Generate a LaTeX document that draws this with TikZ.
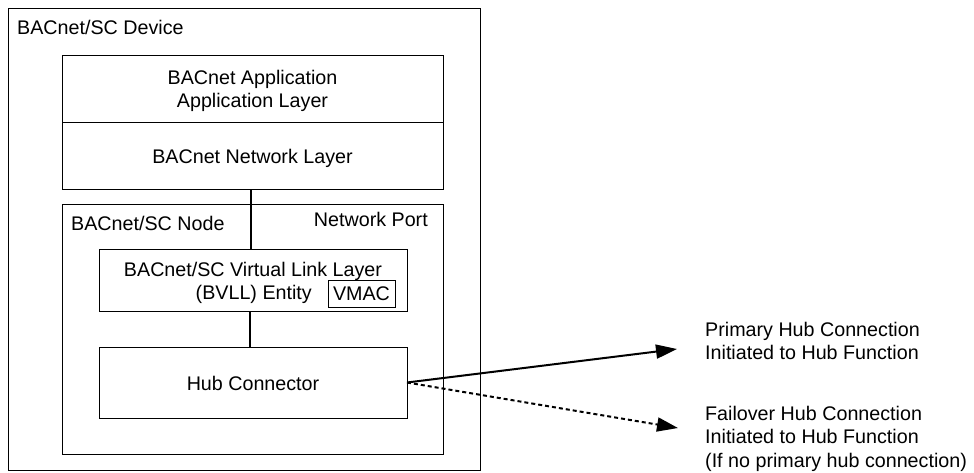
\documentclass[tikz,border=0pt]{standalone}
\usepackage{fontspec}
\setmainfont{Liberation Sans}
\usetikzlibrary{arrows.meta}
\tikzset{
  box/.style={draw, line width=1pt, inner sep=0pt, outer sep=0pt, anchor=north west},
  lbl/.style={inner sep=0pt, font=\fontsize{19.7}{23.5}\selectfont},
  link/.style={line width=2pt},
  conn/.style={line width=2pt, -{Triangle[length=21pt,width=14pt]}},
  dconn/.style={conn, dash pattern=on 4pt off 3pt}
}
\begin{document}
\begin{tikzpicture}[x=1pt,y=-1pt]
\useasboundingbox (0,0) rectangle (974,472);
% boxes
\node[box, minimum width=472pt, minimum height=462pt] (dev) at (8,8) {};
\node[box, minimum width=381pt, minimum height=67pt] (app) at (62,55) {};
\node[box, minimum width=381pt, minimum height=67pt] (net) at (62,122) {};
\node[box, minimum width=381pt, minimum height=250pt] (node) at (62,204) {};
\node[box, minimum width=308pt, minimum height=62pt] (vll) at (99,249) {};
\node[box, minimum width=67pt, minimum height=27pt] (vmac) at (328,280) {};
\node[box, minimum width=308pt, minimum height=71pt] (hub) at (99,347) {};
% labels
\node[lbl, anchor=base west] (tdev) at (17,34) {BACnet/SC Device};
\node[lbl, anchor=base] (tapp1) at (252.5,84) {BACnet Application};
\node[lbl, anchor=base] (tapp2) at (252.5,107) {Application Layer};
\node[lbl, anchor=base] (tnet) at (252.5,163) {BACnet Network Layer};
\node[lbl, anchor=base west] (tnode) at (71,230) {BACnet/SC Node};
\node[lbl, anchor=base east] (tport) at (428,226) {Network Port};
\node[lbl, anchor=base] (tvll1) at (253,276) {BACnet/SC Virtual Link Layer};
\node[lbl, anchor=base east] (tvll2) at (312,299) {(BVLL) Entity};
\node[lbl, anchor=base] (tvmac) at (361.5,300.5) {VMAC};
\node[lbl, anchor=base] (thub) at (253,390) {Hub Connector};
\node[lbl, anchor=base west] (tp1) at (705,336) {Primary Hub Connection};
\node[lbl, anchor=base west] (tp2) at (705,359.5) {Initiated to Hub Function};
\node[lbl, anchor=base west] (tf1) at (705,420) {Failover Hub Connection};
\node[lbl, anchor=base west] (tf2) at (705,443.5) {Initiated to Hub Function};
\node[lbl, anchor=base west] (tf3) at (705,467) {(If no primary hub connection)};
% connectors
\coordinate (pend) at (677,349);
\coordinate (fend) at (678,428);
\draw[link] (net.south -| 251,0) -- (vll.north -| 251,0);
\draw[link] (vll.south -| 250,0) -- (hub.north -| 250,0);
\draw[conn] (hub.east) -- (pend);
\draw[dconn] (hub.east) -- (fend);
\end{tikzpicture}
\end{document}
